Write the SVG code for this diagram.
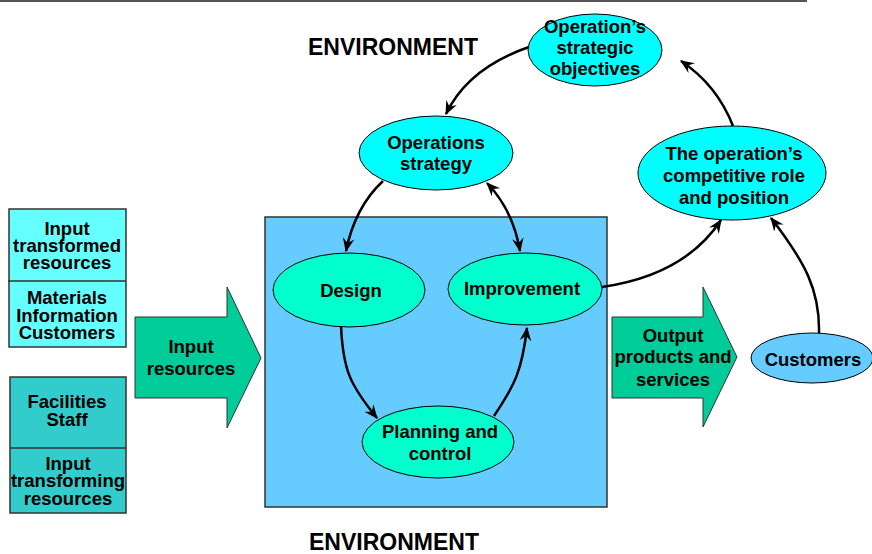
<svg xmlns="http://www.w3.org/2000/svg" width="872" height="554" viewBox="0 0 872 554">
<defs>
<style>
text{font-family:"Liberation Sans",Arial,sans-serif;font-weight:bold;font-size:18.5px;fill:#000;text-anchor:middle}
.env{font-size:23px}
.el{stroke:#000;stroke-width:1}
.cyan{fill:#00FFFF}
.aqua{fill:#00FFCC}
.sky{fill:#66CCFF}
.box{stroke:#333;stroke-width:1.5}
.conn{fill:none;stroke:#000;stroke-width:2.5}
.bigarrow{fill:#00CC99;stroke:#333;stroke-width:1}
</style>
<marker id="ah" markerUnits="userSpaceOnUse" markerWidth="14" markerHeight="14" viewBox="0 0 12 12" refX="11" refY="6" orient="auto-start-reverse">
<path d="M0,1 L12,6 L0,11 L4,6 z" fill="#000"/>
</marker>
</defs>
<rect width="872" height="554" fill="#fff"/>
<line x1="0" y1="1" x2="807" y2="1" stroke="#555" stroke-width="2"/>

<g id="env-top"><text class="env" x="393" y="55">ENVIRONMENT</text></g>
<g id="env-bottom"><text class="env" x="394" y="550">ENVIRONMENT</text></g>

<g id="process-box"><rect x="265" y="217" width="342" height="290" class="sky box"/></g>

<g id="input-transformed">
<rect x="9" y="209" width="117" height="138" fill="#66FFFF" class="box"/>
<line x1="8" y1="281" x2="126" y2="281" stroke="#333" stroke-width="1.5"/>
<text x="67" y="235">Input</text>
<text x="67" y="252">transformed</text>
<text x="67" y="269">resources</text>
<text x="67" y="304">Materials</text>
<text x="67" y="322">Information</text>
<text x="67" y="339">Customers</text>
</g>

<g id="input-transforming">
<rect x="10" y="377" width="116" height="136" fill="#33CCCC" class="box"/>
<line x1="10" y1="448" x2="126" y2="448" stroke="#333" stroke-width="1.5"/>
<text x="67" y="408">Facilities</text>
<text x="67" y="426">Staff</text>
<text x="68" y="470">Input</text>
<text x="68" y="487">transforming</text>
<text x="68" y="505">resources</text>
</g>

<g id="input-arrow">
<polygon class="bigarrow" points="135,317 227,317 227,287 261,358 227,428 227,398 135,398"/>
<text x="191" y="353">Input</text>
<text x="191" y="375">resources</text>
</g>

<g id="output-arrow">
<polygon class="bigarrow" points="612,317 703,317 703,287 737,357 703,427 703,398 612,398"/>
<text x="673" y="342">Output</text>
<text x="673" y="363">products and</text>
<text x="673" y="386">services</text>
</g>

<g id="objectives">
<ellipse cx="595" cy="50" rx="67" ry="36" class="el cyan"/>
<text x="595" y="33">Operation’s</text>
<text x="595" y="54">strategic</text>
<text x="595" y="75">objectives</text>
</g>

<g id="strategy">
<ellipse cx="436" cy="153" rx="77" ry="37" class="el cyan"/>
<text x="436" y="149">Operations</text>
<text x="436" y="170">strategy</text>
</g>

<g id="competitive">
<ellipse cx="732" cy="173" rx="94" ry="47" class="el cyan"/>
<text x="734" y="160">The operation’s</text>
<text x="734" y="182">competitive role</text>
<text x="734" y="204">and position</text>
</g>

<g id="design">
<ellipse cx="349" cy="290" rx="76" ry="37" class="el aqua"/>
<text x="351" y="297">Design</text>
</g>

<g id="improvement">
<ellipse cx="525" cy="289" rx="77" ry="36" class="el aqua"/>
<text x="522" y="295">Improvement</text>
</g>

<g id="planning">
<ellipse cx="438" cy="442" rx="76" ry="36" class="el aqua"/>
<text x="440" y="438">Planning and</text>
<text x="440" y="460">control</text>
</g>

<g id="customers">
<ellipse cx="812" cy="358" rx="61" ry="25" class="el sky"/>
<text x="813" y="366">Customers</text>
</g>

<g id="connectors">
<path class="conn" d="M529,47 Q468,68 446,114" marker-end="url(#ah)"/>
<path class="conn" d="M383,181 Q355,207 346,251" marker-end="url(#ah)"/>
<path class="conn" d="M487,183 Q513,210 520,251" marker-start="url(#ah)" marker-end="url(#ah)"/>
<path class="conn" d="M341,326 C343,370 350,385 377,418" marker-end="url(#ah)"/>
<path class="conn" d="M494,416 C515,385 522,370 527,328" marker-end="url(#ah)"/>
<path class="conn" d="M602,287 Q685,275 721,220" marker-end="url(#ah)"/>
<path class="conn" d="M733,126 Q717,85 681,61" marker-end="url(#ah)"/>
<path class="conn" d="M819,333 C820,290 805,262 771,218" marker-end="url(#ah)"/>
</g>
</svg>
